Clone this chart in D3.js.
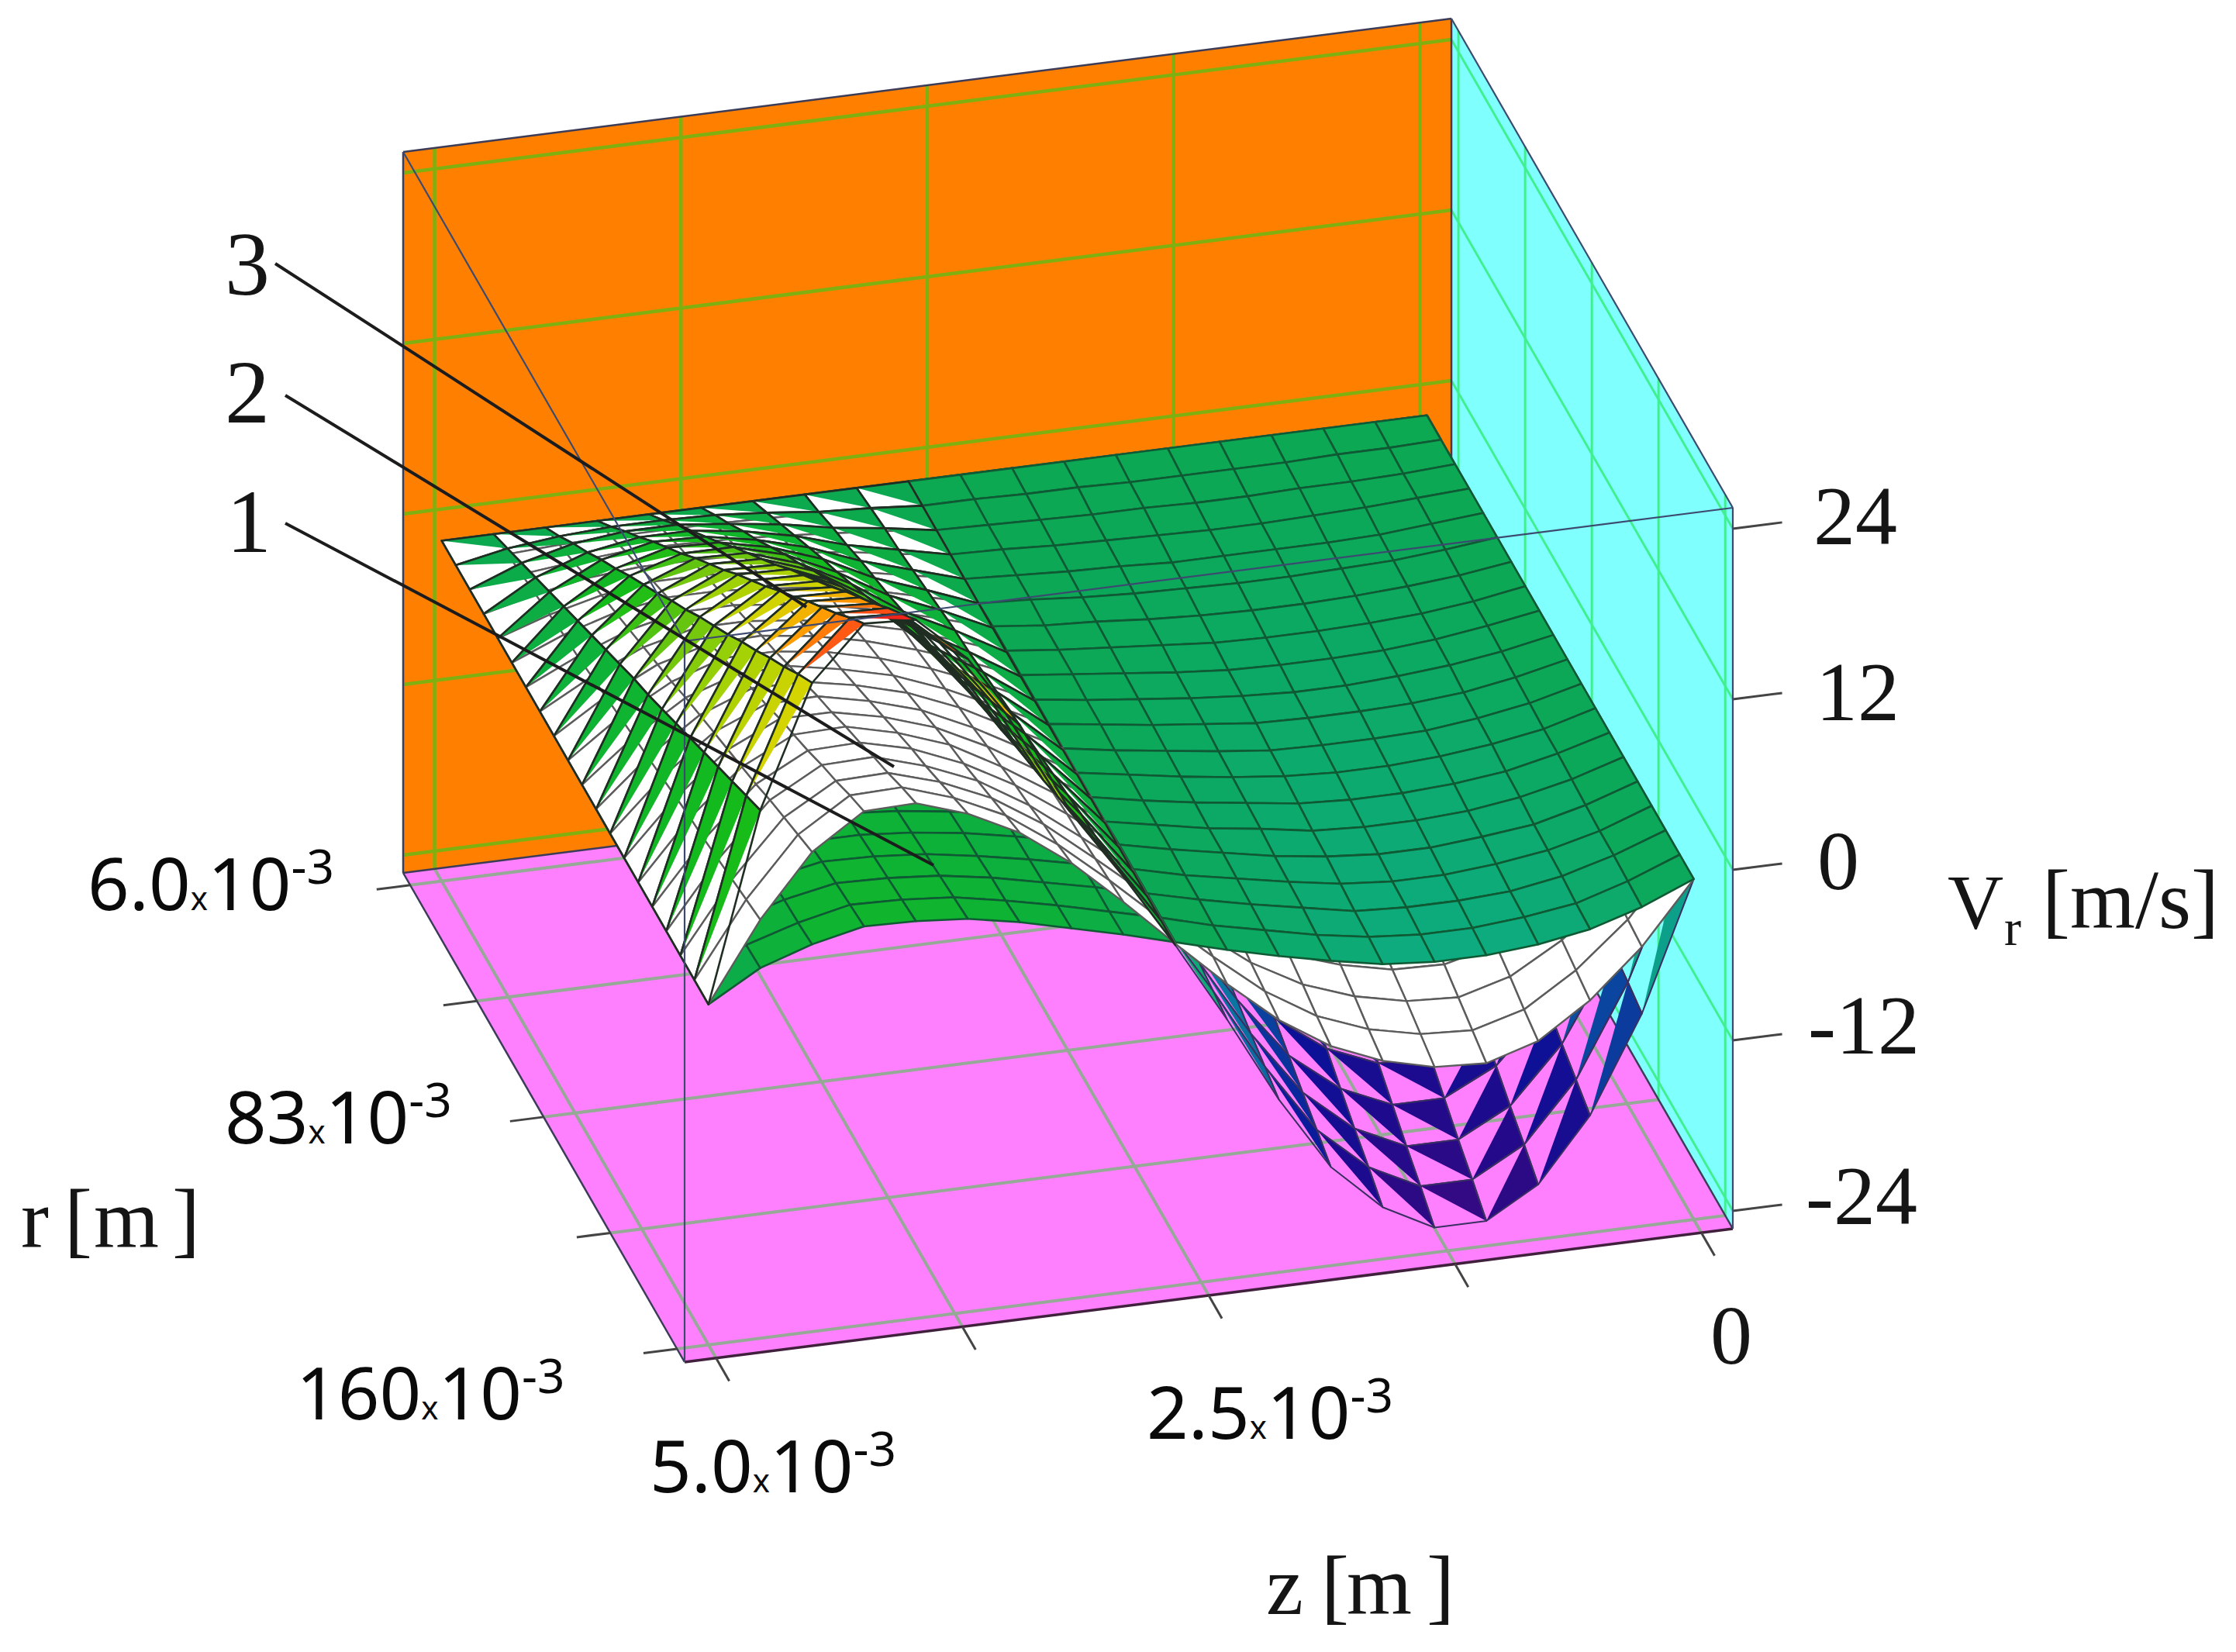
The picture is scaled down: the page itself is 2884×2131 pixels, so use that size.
<!DOCTYPE html>
<html><head><meta charset="utf-8">
<script src="https://cdn.jsdelivr.net/npm/d3@7/dist/d3.min.js"></script>
<style>html,body{margin:0;background:#fff}svg{display:block}</style></head>
<body><svg id="c" width="2884" height="2131"></svg>
<script>
const zTicks=[5e-3,3.75e-3,2.5e-3,1.25e-3,0];
const rTicks=[6e-3,44.5e-3,83e-3,121.5e-3,160e-3];
const vTicks=[-24,-12,0,12,24];
const vLabels=['-24','-12','0','12','24'];
const leaderLabels=['1','2','3'];
// Vr [m/s] on the mesh: one row per r node (back to front), one column per z node (5e-3 to 0)
const V1=[
[-1.3,-1.3,-1.3,-1.3,-1.3,-1.3,-1.3,-1.3,-1.3,-1.3,-1.3,-1.3,-1.3,-1.3,-1.3,-1.3,-1.3,-1.3,-1.3,-1.3],
[-1.3,-1.2,-1.1,-1.1,-1.1,-1.1,-1.1,-1.2,-1.2,-1.3,-1.3,-1.4,-1.4,-1.5,-1.5,-1.5,-1.5,-1.4,-1.4,-1.3],
[-1.3,-1.1,-1,-.9,-.9,-.9,-1,-1.1,-1.2,-1.3,-1.4,-1.5,-1.6,-1.6,-1.7,-1.7,-1.6,-1.6,-1.5,-1.3],
[-1.3,-1,-.8,-.7,-.7,-.7,-.8,-1,-1.1,-1.3,-1.4,-1.6,-1.7,-1.8,-1.9,-1.9,-1.8,-1.7,-1.5,-1.3],
[-1.3,-.9,-.6,-.4,-.5,-.5,-.7,-.9,-1,-1.3,-1.5,-1.7,-1.8,-2,-2,-2,-2,-1.9,-1.6,-1.3],
[-1.3,-.8,-.4,-.2,-.3,-.3,-.5,-.8,-1,-1.3,-1.5,-1.8,-2,-2.1,-2.2,-2.2,-2.1,-2,-1.7,-1.3],
[-1.3,-.6,-.3,0,0,-.1,-.4,-.6,-.9,-1.2,-1.6,-1.8,-2.1,-2.3,-2.4,-2.4,-2.3,-2.1,-1.8,-1.3],
[-1.3,-.5,-.1,.2,.2,.1,-.2,-.5,-.9,-1.2,-1.6,-1.9,-2.2,-2.5,-2.6,-2.6,-2.5,-2.3,-1.9,-1.3],
[-1.3,-.4,.1,.4,.4,.3,0,-.4,-.8,-1.2,-1.6,-2,-2.4,-2.7,-2.8,-2.8,-2.7,-2.4,-1.9,-1.3],
[-1.3,-.3,.3,.6,.6,.5,.1,-.3,-.7,-1.2,-1.7,-2.1,-2.5,-2.8,-3,-3,-2.8,-2.5,-2,-1.3],
[-1.3,-.2,.4,.9,.8,.7,.3,-.2,-.7,-1.2,-1.7,-2.2,-2.6,-3,-3.1,-3.1,-3,-2.7,-2.1,-1.3],
[-1.3,-.1,.6,1.1,1,.8,.4,-.1,-.6,-1.2,-1.8,-2.3,-2.8,-3.2,-3.3,-3.3,-3.2,-2.8,-2.2,-1.3],
[-1.3,0,.8,1.3,1.2,1,.6,0,-.5,-1.2,-1.8,-2.4,-2.9,-3.3,-3.5,-3.5,-3.3,-2.9,-2.3,-1.3],
[-1.3,.1,1,1.5,1.4,1.2,.8,.1,-.5,-1.2,-1.9,-2.5,-3,-3.5,-3.7,-3.7,-3.5,-3.1,-2.3,-1.3],
[-1.3,.3,1.1,1.7,1.7,1.4,.9,.3,-.4,-1.2,-1.9,-2.6,-3.1,-3.7,-3.9,-3.9,-3.7,-3.2,-2.4,-1.3],
[-1.3,.4,1.3,1.9,1.9,1.6,1.1,.4,-.4,-1.1,-1.9,-2.6,-3.3,-3.8,-4.1,-4.1,-3.8,-3.4,-2.5,-1.3],
[-1.3,.5,1.5,2.2,2.1,1.8,1.2,.5,-.3,-1.1,-2,-2.7,-3.4,-4,-4.3,-4.3,-4,-3.5,-2.6,-1.3],
[-1.3,.6,1.7,2.4,2.3,2,1.4,.6,-.2,-1.1,-2,-2.8,-3.5,-4.2,-4.4,-4.4,-4.2,-3.6,-2.6,-1.3],
[-1.3,.7,1.8,2.6,2.5,2.2,1.5,.7,-.2,-1.1,-2.1,-2.9,-3.7,-4.3,-4.6,-4.6,-4.3,-3.8,-2.7,-1.3],
[-1.3,.8,2,2.8,2.7,2.4,1.7,.8,-.1,-1.1,-2.1,-3,-3.8,-4.5,-4.8,-4.8,-4.5,-3.9,-2.8,-1.3]];
const V2=[
[-1.3,-1.3,-1.3,-1.3,-1.3,-1.3,-1.3,-1.3,-1.3,-1.3,-1.3,-1.3,-1.3,-1.3,-1.3,-1.3,-1.3,-1.3,-1.3,-1.3],
[-1.3,-1,-.8,-.7,-.7,-.7,-.8,-.9,-1.1,-1.3,-1.5,-1.6,-1.7,-1.8,-1.9,-1.9,-1.8,-1.7,-1.5,-1.3],
[-1.3,-.7,-.3,0,0,-.1,-.3,-.6,-.9,-1.3,-1.6,-2,-2.2,-2.4,-2.5,-2.5,-2.4,-2.1,-1.8,-1.3],
[-1.3,-.4,.3,.6,.6,.5,.2,-.2,-.8,-1.3,-1.8,-2.3,-2.6,-2.9,-3,-3.1,-2.9,-2.5,-2,-1.3],
[-1.3,-.1,.8,1.3,1.3,1,.7,.1,-.6,-1.3,-2,-2.6,-3.1,-3.4,-3.6,-3.6,-3.4,-2.9,-2.2,-1.3],
[-1.3,.2,1.3,1.9,1.9,1.6,1.2,.5,-.4,-1.3,-2.1,-2.9,-3.5,-3.9,-4.2,-4.2,-3.9,-3.3,-2.4,-1.3],
[-1.3,.4,1.8,2.6,2.6,2.2,1.6,.8,-.2,-1.3,-2.3,-3.3,-4,-4.5,-4.7,-4.8,-4.5,-3.7,-2.7,-1.3],
[-1.3,.7,2.3,3.2,3.2,2.8,2.1,1.2,0,-1.3,-2.5,-3.6,-4.4,-5,-5.3,-5.4,-5,-4.1,-2.9,-1.3],
[-1.3,1,2.8,3.8,3.9,3.4,2.6,1.5,.2,-1.3,-2.6,-3.9,-4.9,-5.5,-5.9,-6,-5.5,-4.5,-3.1,-1.3],
[-1.3,1.3,3.3,4.5,4.5,4,3.1,1.9,.4,-1.3,-2.8,-4.2,-5.3,-6,-6.5,-6.6,-6,-4.9,-3.3,-1.3],
[-1.3,1.6,3.9,5.1,5.2,4.5,3.6,2.2,.5,-1.3,-3,-4.6,-5.8,-6.6,-7,-7.1,-6.6,-5.3,-3.6,-1.3],
[-1.3,1.9,4.4,5.8,5.8,5.1,4.1,2.6,.7,-1.2,-3.2,-4.9,-6.2,-7.1,-7.6,-7.7,-7.1,-5.7,-3.8,-1.3],
[-1.3,2.2,4.9,6.4,6.5,5.7,4.6,2.9,.9,-1.2,-3.3,-5.2,-6.7,-7.6,-8.2,-8.3,-7.6,-6.1,-4,-1.3],
[-1.3,2.5,5.4,7.1,7.1,6.3,5.1,3.3,1.1,-1.2,-3.5,-5.5,-7.1,-8.1,-8.8,-8.9,-8.1,-6.5,-4.2,-1.3],
[-1.3,2.8,5.9,7.7,7.8,6.9,5.6,3.6,1.3,-1.2,-3.7,-5.9,-7.6,-8.7,-9.3,-9.5,-8.7,-6.9,-4.5,-1.3],
[-1.3,3,6.4,8.3,8.4,7.5,6,4,1.5,-1.2,-3.8,-6.2,-8,-9.2,-9.9,-10.1,-9.2,-7.3,-4.7,-1.3],
[-1.3,3.3,7,9,9.1,8,6.5,4.3,1.6,-1.2,-4,-6.5,-8.5,-9.7,-10.5,-10.6,-9.7,-7.7,-4.9,-1.3],
[-1.3,3.6,7.5,9.6,9.7,8.6,7,4.7,1.8,-1.2,-4.2,-6.9,-8.9,-10.2,-11,-11.2,-10.2,-8.1,-5.1,-1.3],
[-1.3,3.9,8,10.3,10.4,9.2,7.5,5,2,-1.2,-4.3,-7.2,-9.4,-10.8,-11.6,-11.8,-10.8,-8.5,-5.4,-1.3],
[-1.3,4.2,8.5,10.9,11,9.8,8,5.4,2.2,-1.2,-4.5,-7.5,-9.8,-11.3,-12.2,-12.4,-11.3,-8.9,-5.6,-1.3]];
const V3=[
[-1.3,-1.3,-1.3,-1.3,-1.3,-1.3,-1.3,-1.3,-1.3,-1.3,-1.3,-1.3,-1.3,-1.3,-1.3,-1.3,-1.3,-1.3,-1.3,-1.3],
[-1.3,-.6,-.2,0,0,-.1,-.4,-.8,-1,-1.3,-1.6,-1.9,-2.2,-2.4,-2.5,-2.5,-2.4,-2.1,-1.8,-1.3],
[-1.3,.1,1,1.4,1.4,1,.5,-.2,-.7,-1.3,-1.9,-2.5,-3.1,-3.4,-3.6,-3.6,-3.4,-3,-2.3,-1.3],
[-1.3,.8,2.1,2.7,2.7,2.2,1.4,.3,-.5,-1.3,-2.2,-3.2,-4,-4.5,-4.8,-4.8,-4.5,-3.8,-2.7,-1.3],
[-1.3,1.5,3.3,4.1,4,3.3,2.3,.9,-.2,-1.3,-2.5,-3.8,-4.9,-5.6,-6,-6,-5.5,-4.6,-3.2,-1.3],
[-1.3,2.2,4.4,5.4,5.3,4.5,3.2,1.4,.1,-1.3,-2.8,-4.4,-5.8,-6.6,-7.1,-7.1,-6.6,-5.4,-3.7,-1.3],
[-1.3,2.9,5.6,6.7,6.7,5.7,4,1.9,.4,-1.3,-3.1,-5,-6.7,-7.7,-8.3,-8.3,-7.7,-6.3,-4.1,-1.3],
[-1.3,3.6,6.7,8.1,8,6.8,4.9,2.5,.7,-1.3,-3.4,-5.6,-7.6,-8.8,-9.5,-9.5,-8.7,-7.1,-4.6,-1.3],
[-1.3,4.3,7.8,9.4,9.3,8,5.8,3,.9,-1.3,-3.7,-6.3,-8.5,-9.9,-10.7,-10.7,-9.8,-7.9,-5.1,-1.3],
[-1.3,5,9,10.7,10.6,9.1,6.7,3.5,1.2,-1.3,-4,-6.9,-9.4,-10.9,-11.8,-11.8,-10.8,-8.7,-5.6,-1.3],
[-1.3,5.7,10.1,12.1,12,10.3,7.6,4.1,1.5,-1.3,-4.3,-7.5,-10.3,-12,-13,-13,-11.9,-9.6,-6,-1.3],
[-1.3,6.3,11.3,13.4,13.3,11.4,8.5,4.6,1.8,-1.3,-4.6,-8.1,-11.1,-13.1,-14.2,-14.2,-12.9,-10.4,-6.5,-1.3],
[-1.3,7,12.4,14.7,14.6,12.6,9.4,5.1,2,-1.3,-4.9,-8.8,-12,-14.1,-15.3,-15.3,-14,-11.2,-7,-1.3],
[-1.3,7.7,13.5,16.1,15.9,13.8,10.3,5.7,2.3,-1.3,-5.2,-9.4,-12.9,-15.2,-16.5,-16.5,-15.1,-12,-7.5,-1.3],
[-1.3,8.4,14.7,17.4,17.3,14.9,11.2,6.2,2.6,-1.3,-5.5,-10,-13.8,-16.3,-17.7,-17.7,-16.1,-12.9,-7.9,-1.3],
[-1.3,9.1,15.8,18.8,18.6,16.1,12,6.8,2.9,-1.3,-5.8,-10.6,-14.7,-17.3,-18.8,-18.8,-17.2,-13.7,-8.4,-1.3],
[-1.3,9.8,17,20.1,19.9,17.2,12.9,7.3,3.2,-1.3,-6.1,-11.2,-15.6,-18.4,-20,-20,-18.2,-14.5,-8.9,-1.3],
[-1.3,10.5,18.1,21.4,21.3,18.4,13.8,7.8,3.4,-1.3,-6.4,-11.9,-16.5,-19.5,-21.2,-21.2,-19.3,-15.4,-9.4,-1.3],
[-1.3,11.2,19.3,22.8,22.6,19.5,14.7,8.4,3.7,-1.3,-6.7,-12.5,-17.4,-20.5,-22.3,-22.3,-20.3,-16.2,-9.8,-1.3],
[-1.3,11.9,20.4,24.1,23.9,20.7,15.6,8.9,4,-1.3,-7,-13.1,-18.3,-21.6,-23.5,-23.5,-21.4,-17,-10.3,-1.3]];

const tS=d3.scaleLinear([5e-3,0],[.03,.97]);
const sS=d3.scaleLinear([6e-3,160e-3],[.025,.973]);
const hS=d3.scaleLinear([-24,24],[.0247,.971]);
const zAt=d3.scaleLinear([0,19],[5e-3,0]);
const rAt=d3.scaleLinear([0,19],[6e-3,160e-3]);
const P=(t,s,h)=>[520+1352*t+363*s,1126-172*t+631*s-930*h];
const line=(a,b)=>`M${P(...a)}L${P(...b)}`;
const svg=d3.select('#c');
const poly=pts=>pts.map(p=>p.join(',')).join(' ');

// walls
svg.append('polygon').attr('points',poly([P(0,0,0),P(1,0,0),P(1,0,1),P(0,0,1)])).attr('fill','#ff8000');
svg.append('polygon').attr('points',poly([P(1,0,0),P(1,1,0),P(1,1,1),P(1,0,1)])).attr('fill','#80ffff');
svg.append('polygon').attr('points',poly([P(0,0,0),P(1,0,0),P(1,1,0),P(0,1,0)])).attr('fill','#ff80ff');
const gl=(d,c,w)=>svg.append('path').attr('d',d).attr('stroke',c).attr('stroke-width',w).attr('fill','none');
// grid
zTicks.forEach(z=>{const t=tS(z);
  gl(line([t,0,0],[t,0,1]),'#80b010',4.5);
  gl(line([t,0,0],[t,1,0]),'#96a896',4);});
vTicks.forEach(v=>{const h=hS(v);
  gl(line([0,0,h],[1,0,h]),'#80b010',4.5);
  gl(line([1,0,h],[1,1,h]),'#40f090',3);});
rTicks.forEach(r=>{const s=sS(r);
  gl(line([0,s,0],[1,s,0]),'#96a896',4);
  gl(line([1,s,0],[1,s,1]),'#40f090',3);});
// outlines under the surface
const edge='#3c3c58';
[[[0,0,0],[0,0,1]],[[0,0,1],[1,0,1]],[[1,0,1],[1,0,0]],[[0,0,0],[1,0,0]],[[0,0,0],[0,1,0]],[[1,0,0],[1,1,0]]]
 .forEach(([a,b])=>gl(line(a,b),edge,2.5));
gl(line([0,1,0],[1,1,0]),'#40203c',3.5);
// ticks
const tk='#444';
zTicks.forEach(z=>gl(line([tS(z),1,0],[tS(z),1.047,0]),tk,3));
rTicks.forEach(r=>gl(line([-.032,sS(r),0],[0,sS(r),0]),tk,3));
vTicks.forEach(v=>gl(line([1,1,hS(v)],[1.047,1,hS(v)]),tk,3));

// surfaces
const color=d3.scaleLinear()
 .domain([-24,-20,-16,-12,-8,-4.8,-1.3,1,5,8,12,16,19,22,24])
 .range(['#3a0a80','#1f0a8c','#0a1298','#0a50a0','#0a80a0','#0dab80','#0ca852','#0db03c','#14bc18','#60c410','#a4d204','#d8d400','#ffa000','#ff5015','#e81020']);
const nodes=(V,i,j)=>[tS(zAt(i)),sS(rAt(j)),hS(V[j][i])];
const items=[];
const depth=ps=>d3.mean(ps,p=>.728*p[2]+p[1]-.2685*p[0]);
[[V1,1],[V2,2],[V3,3]].forEach(([V,k])=>{
 const lowest=d3.minIndex(V[19]);
 for(let j=0;j<19;j++)for(let i=0;i<19;i++){
  const a=nodes(V,i,j),b=nodes(V,i+1,j),c=nodes(V,i+1,j+1),d=nodes(V,i,j+1);
  const q=[a,b,c,d];
  const m=d3.mean(q,p=>hS.invert(p[2]));
  items.push({k,q,m,D:depth(q),lower:i>lowest});
 }});
items.sort((x,y)=>x.D-y.D);
const g=svg.append('g').attr('stroke-linejoin','round');
items.forEach(o=>{
 const pts=o.q.map(p=>P(...p));
 if(o.k===1) g.append('polygon').attr('points',poly(pts)).attr('fill',color(o.m)).attr('stroke','#0f5a34').attr('stroke-width',2.6);
 else if(o.k===2) g.append('polygon').attr('points',poly(pts)).attr('fill','#fff').attr('stroke','#5c5c5c').attr('stroke-width',2.4);
 else{
  const tri=o.lower?[pts[1],pts[2],pts[3]]:[pts[0],pts[1],pts[2]];
  g.append('polygon').attr('points',poly(tri)).attr('fill',color(o.m));
  g.append('polygon').attr('points',poly(pts)).attr('fill','none').attr('stroke',o.m>-1.6?'#1f2d22':'#3a2f62').attr('stroke-width',o.m>-1.6?2.6:2);
 }
});
// wire box on top
[[[0,0,1],[0,1,1]],[[0,1,1],[1,1,1]],[[0,1,1],[0,1,0]],[[1,1,1],[1,1,0]],[[1,0,1],[1,1,1]]]
 .forEach(([a,b])=>gl(line(a,b),'#3c4a70',2.2));

// leaders
const leaders=[[368,675,1204,1116],[368,510,1153,989],[355,340,1040,783]];
leaders.forEach(l=>svg.append('line').attr('x1',l[0]).attr('y1',l[1]).attr('x2',l[2]).attr('y2',l[3]).attr('stroke','#1c1c1c').attr('stroke-width',4));
const serif="'Liberation Serif',serif", sans="'Noto Sans',sans-serif";
const T=(x,y,s,fs,ff)=>svg.append('text').attr('x',x).attr('y',y).attr('font-size',fs).attr('font-family',ff).attr('fill','#151515').text(s);
[[292,712],[290,545],[290,380]].forEach((p,i)=>T(p[0],p[1],leaderLabels[i],116,serif));
// tick labels
[[2329,1579],[2332,1359],[2344,1147],[2342,929],[2339,702]].forEach((p,i)=>T(p[0],p[1],vLabels[i],108,serif));
T(2206,1759,'0',108,serif);
const sci=(x,y,m)=>{const e=svg.append('text').attr('x',x).attr('y',y).attr('font-family',sans).attr('fill','#0a0a0a').attr('font-size',94);
 e.append('tspan').text(m);
 e.append('tspan').attr('font-size',42).text('x');
 e.append('tspan').text('10');
 e.append('tspan').attr('font-size',62).attr('dy',-34).text('-3');};
sci(113,1174,'6.0');sci(290,1475,'83');sci(382,1831,'160');sci(838,1925,'5.0');sci(1479,1856,'2.5');
// axis titles
const title=(glyphs,y)=>{const e=svg.append('text').attr('y',y).attr('font-size',108).attr('font-family',serif).attr('fill','#151515');
 glyphs.forEach(([s,x])=>e.append('tspan').attr('x',x).text(s));};
title([['r',27],['[',83],['m',121],[']',222]],1609);
title([['z',1633],['[',1704],['m',1737],[']',1840]],2082);
T(2512,1197,'V',100,serif);
T(2585,1219,'r',66,serif);
T(2634,1197,'[m/s]',108,serif);
</script></body></html>
